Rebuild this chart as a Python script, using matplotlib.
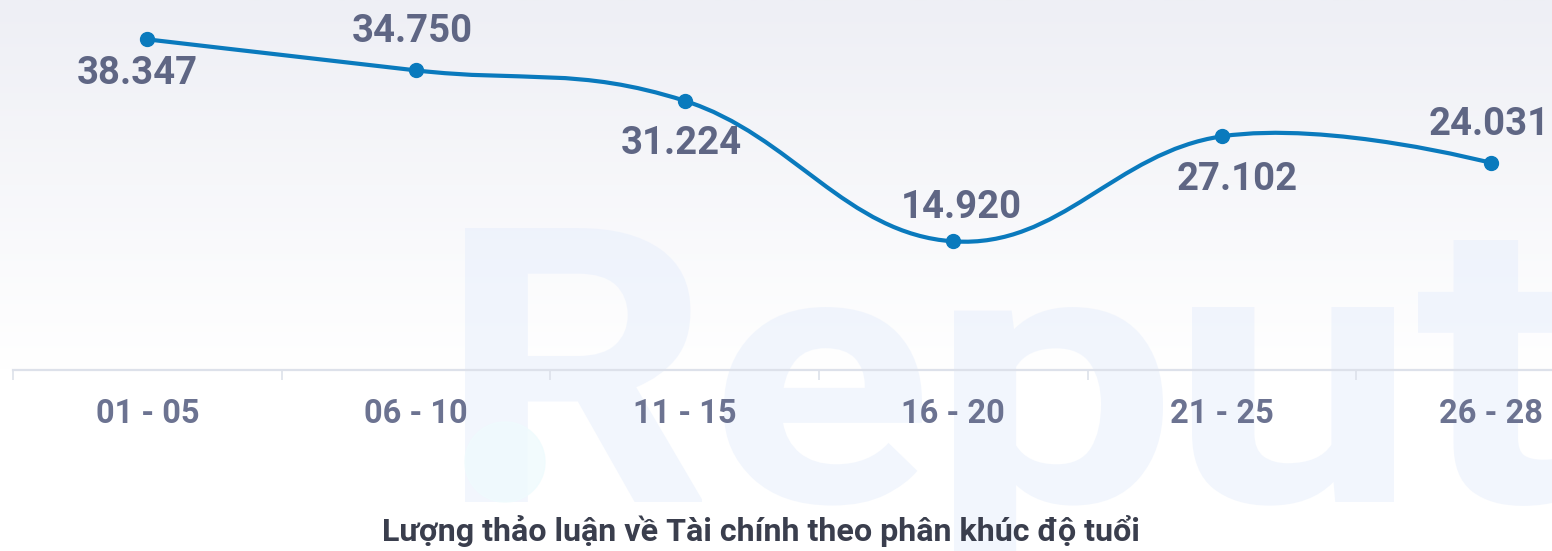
import numpy as np
import matplotlib
matplotlib.use('Agg')
import matplotlib.pyplot as plt
from matplotlib.path import Path
from matplotlib.patches import PathPatch, Circle
from matplotlib.colors import to_rgb
from matplotlib.textpath import TextPath
from matplotlib.font_manager import FontProperties
from matplotlib.transforms import Affine2D

# ---- data ----
categories = ['01 - 05', '06 - 10', '11 - 15', '16 - 20', '21 - 25', '26 - 28']
values = [38347, 34750, 31224, 14920, 27102, 24031]
value_labels = ['38.347', '34.750', '31.224', '14.920', '27.102', '24.031']
title = 'Lượng thảo luận về Tài chính theo phân khúc độ tuổi'

# label offsets in pixels (dx, dy downwards, baseline)
label_offsets = [(-10.5, 45), (-3.5, -28), (-3.5, 53), (8.5, -23), (15, 54), (-1, -28)]

W, H = 1552, 551
LINE = '#0a7abd'
LBL = '#5f6684'
AXLBL = '#6c7391'
TITLE = '#3a3e4d'
plt.rcParams['font.family'] = ['Roboto', 'DejaVu Sans']

fig = plt.figure(figsize=(W / 100, H / 100), dpi=100)
fig.patch.set_facecolor('white')

# background axes in pixel coords
bg = fig.add_axes([0, 0, 1, 1], zorder=-5)
bg.set_xlim(0, W)
bg.set_ylim(H, 0)
bg.axis('off')
top = np.array(to_rgb('#eeeff5'))
bot = np.array(to_rgb('#ffffff'))
t = np.linspace(0, 1, 256)[:, None]
grad = (top[None, :] * (1 - t) + bot[None, :] * t)[:, None, :]
bg.imshow(grad, extent=[0, W, 370, 0], aspect='auto', interpolation='bilinear', zorder=0)

# watermark (drawn as glyph outlines)
fp = FontProperties(family='Roboto', weight='bold')
wm_baseline = 502
wm_specs = [('R', 465, 702, 228), ('e', 724, 922, 307), ('p', 954, 1163, 307),
            ('u', 1192, 1394, 307), ('t', 1418, None, 240)]
for ch, x0, x1, ytop in wm_specs:
    tp = TextPath((0, 0), ch, size=100, prop=fp)
    ext = tp.get_extents()
    sy = (wm_baseline - ytop) / ext.y1
    sx = (x1 - x0) / ext.width if x1 is not None else sy * 1.15
    tr = Affine2D().translate(-ext.x0, 0).scale(sx, -sy).translate(x0, wm_baseline)
    bg.add_patch(PathPatch(tr.transform_path(tp), facecolor='#e6eefc', edgecolor='none',
                           alpha=0.5, zorder=1))
bg.add_patch(Circle((505, 462), 40, color='#effbfd', alpha=0.8, zorder=1))

# main axes
axis_y = 370
left_px, right_px = 13, 1625
ax = fig.add_axes([left_px / W, (H - axis_y) / H, (right_px - left_px) / W, axis_y / H])
ax.patch.set_alpha(0)
ax.set_xlim(-0.5, len(categories) - 0.5)
px_per_unit = 8.622 / 1000.0
ax.set_ylim(0, axis_y / px_per_unit)

# spline through the points (cardinal-like, smoothing 1.5)
xs = np.arange(len(values), dtype=float)
ys = np.array(values, dtype=float)
n = len(xs)
sm = 1.5
den = sm + 1
lc = [None] * n
rc = [None] * n
for i in range(1, n - 1):
    px, py = xs[i], ys[i]
    lx, ly = xs[i - 1], ys[i - 1]
    nx, ny = xs[i + 1], ys[i + 1]
    lcx = (sm * px + lx) / den
    lcy = (sm * py + ly) / den
    rcx = (sm * px + nx) / den
    rcy = (sm * py + ny) / den
    corr = ((rcy - lcy) * (rcx - px)) / (rcx - lcx) + py - rcy
    lc[i] = (lcx, lcy + corr)
    rc[i] = (rcx, rcy + corr)

verts = [(xs[0], ys[0])]
codes = [Path.MOVETO]
for i in range(1, n):
    c1 = rc[i - 1] if rc[i - 1] is not None else (xs[i - 1], ys[i - 1])
    c2 = lc[i] if lc[i] is not None else (xs[i], ys[i])
    verts += [c1, c2, (xs[i], ys[i])]
    codes += [Path.CURVE4] * 3
ax.add_patch(PathPatch(Path(verts, codes), fill=False, edgecolor=LINE, lw=3.0,
                       capstyle='round', joinstyle='round', zorder=3, clip_on=False))
ax.plot(xs, ys, 'o', color=LINE, ms=10, zorder=4, clip_on=False)

for x, y, lab, (dx, dy) in zip(xs, ys, value_labels, label_offsets):
    ax.annotate(lab, (x, y), xytext=(dx, -dy), textcoords='offset pixels',
                ha='center', va='baseline', fontsize=27.5, fontweight='bold',
                color=LBL, zorder=5, annotation_clip=False)

# axes styling
for s in ['left', 'right', 'top']:
    ax.spines[s].set_visible(False)
ax.spines['bottom'].set_color('#dde1ea')
ax.spines['bottom'].set_linewidth(1.6)
ax.set_yticks([])
ax.set_xticks(np.arange(-0.5, len(categories) + 0.5, 1.0))
ax.set_xticklabels([])
ax.tick_params(axis='x', which='major', length=7, width=1.2, color='#dde1ea', direction='out')
ax.set_xticks(xs, minor=True)
ax.set_xticklabels(categories, minor=True)
ax.tick_params(axis='x', which='minor', length=0, pad=20, labelsize=23.5, labelcolor=AXLBL)
for lbl in ax.get_xticklabels(minor=True):
    lbl.set_fontweight('bold')

fig.text(761 / W, 1 - 541 / H, title, ha='center', va='baseline', fontsize=23.2,
         fontweight='bold', color=TITLE)

fig.savefig('out.png', dpi=100)
